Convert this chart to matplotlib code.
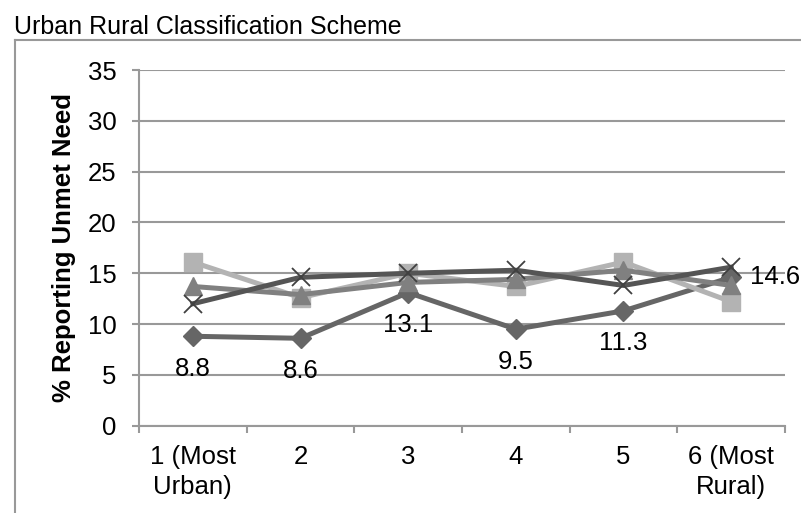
import matplotlib
matplotlib.use("Agg")
import matplotlib.pyplot as plt
from matplotlib.lines import Line2D

plt.rcParams['font.family'] = ['Liberation Sans', 'DejaVu Sans']

# Urban-rural classes and the four series
categories = ["1 (Most\nUrban)", "2", "3", "4", "5", "6 (Most\nRural)"]
diamond_vals = [8.8, 8.6, 13.1, 9.5, 11.3, 14.6]
square_vals = [16.1, 12.6, 15.0, 13.7, 16.1, 12.2]
triangle_vals = [13.7, 12.9, 14.1, 14.4, 15.3, 13.8]
cross_vals = [12.0, 14.6, 15.0, 15.3, 13.8, 15.6]

FS = 18.5
W, H = 801, 513
fig = plt.figure(figsize=(W / 100, H / 100), dpi=100)
ax = fig.add_axes([139 / W, 1 - 425.7 / H, (785 - 139) / W, (425.7 - 70) / H])

x = list(range(1, len(categories) + 1))

ax.plot(x, diamond_vals, color='#666666', lw=3.6, marker='D', ms=10,
        mfc='#666666', mec='#666666', zorder=3)
ax.plot(x, square_vals, color='#b3b3b3', lw=3.6, marker='s', ms=13,
        mfc='#b3b3b3', mec='#b3b3b3', zorder=4)
ax.plot(x, triangle_vals, color='#808080', lw=3.6, marker='^', ms=13,
        mfc='#808080', mec='#808080', zorder=5)
ax.plot(x, cross_vals, color='#555555', lw=3.6, zorder=6)
ax.plot(x, cross_vals, ls='none', marker='x', ms=13, mew=1.3,
        color='#404040', zorder=7)

# value labels for the diamond series
for i, v in enumerate(diamond_vals):
    if i == len(diamond_vals) - 1:
        ax.annotate(f"{v:.1f}", (x[i], v), xytext=(13.5, 0),
                    textcoords='offset points', ha='left', va='center',
                    fontsize=FS, zorder=8)
    else:
        ax.annotate(f"{v:.1f}", (x[i], v), xytext=(0, -23.5),
                    textcoords='offset points', ha='center', va='center',
                    fontsize=FS, zorder=8)

ax.set_xlim(0.5, 6.5)
ax.set_ylim(0, 35)
ax.set_yticks(range(0, 36, 5))
ax.grid(axis='y', color='#999999', lw=1.5)
ax.set_axisbelow(True)

ax.set_xticks(x)
ax.set_xticklabels(categories, fontsize=FS, linespacing=1.3)
ax.set_xticks([i + 0.5 for i in range(0, 7)], minor=True)
ax.tick_params(axis='x', which='major', length=0, pad=14)
ax.tick_params(axis='x', which='minor', length=5, width=1.5,
               color='#999999', direction='out')
ax.tick_params(axis='y', length=5, width=1.5, color='#999999', pad=11,
               labelsize=FS)

for side in ['top', 'right']:
    ax.spines[side].set_visible(False)
for side in ['left', 'bottom']:
    ax.spines[side].set_color('#999999')
    ax.spines[side].set_linewidth(1.5)

fig.text(64 / W, 1 - 248 / H, "% Reporting Unmet Need", rotation=90,
         ha='center', va='center', fontsize=FS, fontweight='bold')
fig.text(14 / W, 1 - 33.5 / H, "Urban Rural Classification Scheme",
         ha='left', va='baseline', fontsize=18)

# chart area border
fig.add_artist(Line2D([15 / W, 1], [1 - 39.5 / H] * 2,
                      transform=fig.transFigure, color='#999999', lw=1.5))
fig.add_artist(Line2D([15 / W] * 2, [0, 1 - 39.5 / H],
                      transform=fig.transFigure, color='#999999', lw=1.5))

fig.savefig("out.png", dpi=100)
